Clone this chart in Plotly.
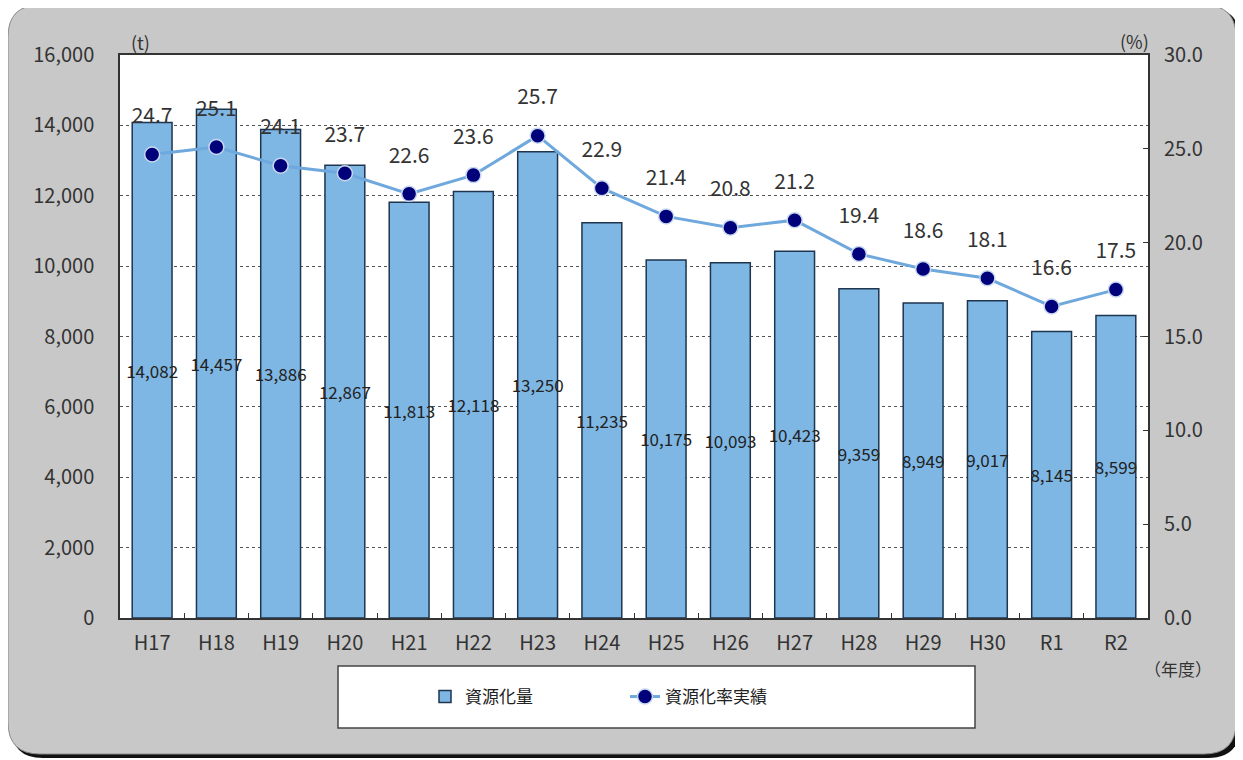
import plotly.graph_objects as go

years = ["H17", "H18", "H19", "H20", "H21", "H22", "H23", "H24",
         "H25", "H26", "H27", "H28", "H29", "H30", "R1", "R2"]
amount_t = [14082, 14457, 13886, 12867, 11813, 12118, 13250, 11235,
            10175, 10093, 10423, 9359, 8949, 9017, 8145, 8599]
rate_pct = [24.7, 25.1, 24.1, 23.7, 22.6, 23.6, 25.7, 22.9,
            21.4, 20.8, 21.2, 19.4, 18.6, 18.1, 16.6, 17.5]

FONT = "Noto Sans CJK JP"
PAGE_W, PAGE_H = 1243, 760
OFF = 8  # page body margin
L, R, T, B = 120, 1148, 55, 618  # plot area, page pixels


def px_x(v):
    return (v - L) / (R - L)


def px_y(v):
    return (B - v) / (B - T)


def rounded_path(x0, y0, x1, y1, r):
    """Rounded rectangle path in paper coords from page-pixel corners."""
    rx = r / (R - L)
    ry = r / (B - T)
    a, b = px_x(x0), px_x(x1)
    top, bot = px_y(y0), px_y(y1)
    return (
        f"M {a + rx},{top} L {b - rx},{top} Q {b},{top} {b},{top - ry} "
        f"L {b},{bot + ry} Q {b},{bot} {b - rx},{bot} "
        f"L {a + rx},{bot} Q {a},{bot} {a},{bot + ry} "
        f"L {a},{top - ry} Q {a},{top} {a + rx},{top} Z"
    )


fig = go.Figure()
fig.add_trace(
    go.Bar(
        x=years,
        y=amount_t,
        name="資源化量",
        marker={"color": "#7fb7e4", "line": {"color": "#1e3550", "width": 1.5}},
        text=[f"{v:,}" for v in amount_t],
        textposition="inside",
        insidetextanchor="middle",
        textangle=0,
        insidetextfont={"family": FONT, "size": 17, "color": "#222222"},
    )
)
fig.add_trace(
    go.Scatter(
        x=years,
        y=rate_pct,
        name="資源化率実績",
        yaxis="y2",
        mode="lines+markers",
        line={"color": "#6fa8dc", "width": 3},
        marker={"color": "#00007a", "size": 15, "line": {"color": "#c8d8f0", "width": 1.5}},
    )
)
# rate labels; the invisible big marker just pushes the text up a bit
fig.add_trace(
    go.Scatter(
        x=years,
        y=rate_pct,
        yaxis="y2",
        mode="markers+text",
        marker={"size": 40, "opacity": 0},
        text=[f"{v:.1f}" for v in rate_pct],
        textposition="top center",
        textfont={"family": FONT, "size": 21, "color": "#333333"},
        showlegend=False,
        hoverinfo="skip",
    )
)

shapes = [
    # shadow + grey panel
    {"type": "path", "xref": "paper", "yref": "paper", "layer": "below",
     "path": rounded_path(11, 8, 1240, 758, 32),
     "fillcolor": "#111111", "line": {"width": 0}},
    {"type": "path", "xref": "paper", "yref": "paper", "layer": "below",
     "path": rounded_path(8, 5, 1236, 754, 32),
     "fillcolor": "#c8c8c8", "line": {"color": "#8a8a8a", "width": 1}},
    # plot area
    {"type": "rect", "xref": "paper", "yref": "paper", "layer": "below",
     "x0": 0, "x1": 1, "y0": 0, "y1": 1, "fillcolor": "white",
     "line": {"width": 0}},
    # legend box
    {"type": "rect", "xref": "paper", "yref": "paper", "layer": "below",
     "x0": px_x(338), "x1": px_x(975), "y0": px_y(728), "y1": px_y(666),
     "fillcolor": "white", "line": {"color": "#444444", "width": 1.5}},
]

note_font = {"family": FONT, "size": 18, "color": "#333333"}
annotations = [
    {"text": "(t)", "x": px_x(140), "y": px_y(42), "font": note_font},
    {"text": "(%)", "x": px_x(1134), "y": px_y(41), "font": note_font},
    {"text": "（年度）", "x": px_x(1178), "y": px_y(668), "font": {**note_font, "size": 17}},
]
for a in annotations:
    a.update(xref="paper", yref="paper", xanchor="center", yanchor="middle",
             showarrow=False)

fig.update_layout(
    width=PAGE_W - OFF,
    height=PAGE_H - OFF,
    margin={"l": L - OFF, "r": PAGE_W - R, "t": T - OFF, "b": PAGE_H - B},
    paper_bgcolor="white",
    plot_bgcolor="rgba(0,0,0,0)",
    font={"family": FONT, "size": 20, "color": "#333333"},
    bargap=0.38,
    showlegend=True,
    legend={
        "orientation": "h",
        "x": px_x(425),
        "y": px_y(697),
        "xanchor": "left",
        "yanchor": "middle",
        "bgcolor": "rgba(0,0,0,0)",
        "entrywidth": 155,
        "font": {"family": FONT, "size": 17, "color": "#222222"},
    },
    uniformtext={"minsize": 17, "mode": "show"},
    xaxis={
        "range": [-0.5, 15.5],
        "showline": True, "mirror": True, "linecolor": "#333333", "linewidth": 1.5,
        "ticks": "inside", "tickson": "boundaries", "ticklen": 5, "tickcolor": "#333333",
        "ticklabelstandoff": 6,
        "tickfont": {"size": 20},
    },
    yaxis={
        "range": [0, 16000], "dtick": 2000, "tickformat": ",",
        "showline": True, "mirror": True, "linecolor": "#333333", "linewidth": 1.5,
        "gridcolor": "#555555", "griddash": "dot", "gridwidth": 1,
        "zeroline": False, "ticks": "", "ticklabelstandoff": 20,
        "tickfont": {"size": 20},
    },
    yaxis2={
        "range": [0, 30], "dtick": 5, "tickformat": ".1f",
        "overlaying": "y", "side": "right", "showgrid": False, "zeroline": False,
        "ticks": "inside", "ticklen": 5, "tickcolor": "#333333",
        "ticklabelstandoff": 15,
        "tickfont": {"size": 20},
    },
    shapes=shapes,
    annotations=annotations,
)

fig.write_html("out.html")
